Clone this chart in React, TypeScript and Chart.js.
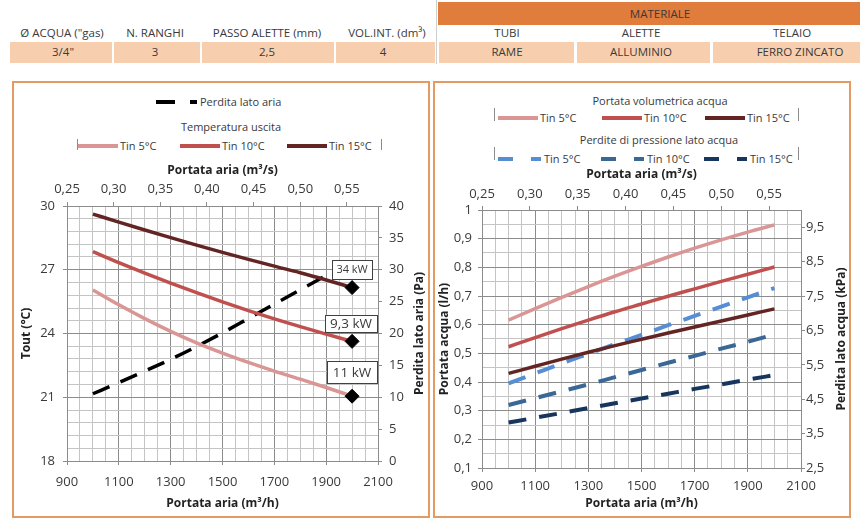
import React, { useEffect, useRef } from 'react';
import { Chart, registerables } from 'chart.js';

Chart.register(...registerables);

// ---------------- data ----------------
const airFlowM3h = [1000, 1100, 1200, 1300, 1400, 1500, 1600, 1700, 1800, 1900, 2000];
const seriesNames = ['Tin 5°C', 'Tin 10°C', 'Tin 15°C'];

// left chart: outlet temperature (°C) and air side pressure drop (Pa)
const toutTin5 = [26.05, 25.35, 24.7, 24.1, 23.56, 23.08, 22.64, 22.23, 21.85, 21.46, 21.05];
const toutTin10 = [27.85, 27.33, 26.84, 26.37, 25.92, 25.49, 25.08, 24.69, 24.32, 23.97, 23.63];
const toutTin15 = [29.62, 29.24, 28.87, 28.51, 28.16, 27.82, 27.49, 27.17, 26.86, 26.52, 26.16];
const airSideLossPa = [10.55, 12.3, 14.1, 15.95, 17.95, 20.1, 22.35, 24.6, 26.85, 29.1, 31.35];
const capacityLabels = ['11 kW', '9,3 kW', '34 kW'];

// right chart: water flow (l/h) and water side pressure drop (kPa)
const waterFlowTin5 = [0.616, 0.656, 0.695, 0.733, 0.769, 0.803, 0.836, 0.867, 0.896, 0.923, 0.948];
const waterFlowTin10 = [0.523, 0.555, 0.586, 0.616, 0.645, 0.672, 0.699, 0.725, 0.751, 0.776, 0.801];
const waterFlowTin15 = [0.43, 0.455, 0.48, 0.504, 0.527, 0.549, 0.571, 0.592, 0.613, 0.634, 0.655];
const waterLossTin5 = [4.96, 5.25, 5.54, 5.82, 6.1, 6.37, 6.65, 6.92, 7.19, 7.46, 7.73];
const waterLossTin10 = [4.33, 4.53, 4.73, 4.93, 5.14, 5.35, 5.56, 5.76, 5.97, 6.17, 6.38];
const waterLossTin15 = [3.82, 3.96, 4.1, 4.24, 4.38, 4.52, 4.66, 4.8, 4.93, 5.07, 5.2];

// axes
const airFlowTicksM3h = [900, 1100, 1300, 1500, 1700, 1900, 2100];
const airFlowTicksM3s = [0.25, 0.3, 0.35, 0.4, 0.45, 0.5, 0.55];
const m3hPerM3s = 3600;
const toutTicks = [18, 21, 24, 27, 30];
const airLossTicks = [0, 5, 10, 15, 20, 25, 30, 35, 40];
const waterFlowTicks = [0.1, 0.2, 0.3, 0.4, 0.5, 0.6, 0.7, 0.8, 0.9, 1];
const waterLossTicks = [2.5, 3.5, 4.5, 5.5, 6.5, 7.5, 8.5, 9.5];
const waterLossMax = 10;

// header table
const headerLabels = ['Ø ACQUA ("gas)', 'N. RANGHI', 'PASSO ALETTE (mm)', 'VOL.INT. (dm³)', 'TUBI', 'ALETTE', 'TELAIO'];
const headerValues = ['3/4"', '3', '2,5', '4', 'RAME', 'ALLUMINIO', 'FERRO ZINCATO'];
const headerGroup = 'MATERIALE';

// ---------------- styles ----------------
const FONT = "'Open Sans', sans-serif";
const TEXT = '#3a3a3a';
const TITLE = '#222';
const GRID_MINOR = '#c4c4c4';
const GRID_MAJOR = '#8c8c8c';
const PINK = '#d99694';
const RED = '#c0504d';
const MAROON = '#632523';
const BLUE1 = '#558ed5';
const BLUE2 = '#3b6796';
const NAVY = '#17365d';
const ORANGE_BORDER = '#e59a62';
const PEACH = '#f8cfae';
const ORANGE_BAND = '#e07c3c';

Chart.defaults.font.family = FONT;

const subdivide = (majors: number[], n: number): number[] => {
  const out: number[] = [];
  for (let i = 0; i < majors.length - 1; i++) {
    for (let k = 0; k < n; k++) out.push(majors[i] + ((majors[i + 1] - majors[i]) * k) / n);
  }
  out.push(majors[majors.length - 1]);
  return out;
};
const isMajor = (v: number, majors: number[]) => majors.some((m) => Math.abs(m - v) < 1e-9);
const comma = (v: number, d: number) => v.toFixed(d).replace('.', ',');
const TRANSPARENT = 'rgba(0,0,0,0)';

const rightTitlePlugin = {
  id: 'rightTitle',
  afterDraw(chart: any, _a: any, opts: any) {
    const s = chart.scales[opts.scaleId];
    const ctx = chart.ctx;
    ctx.save();
    ctx.translate(s.right - opts.offset, (chart.chartArea.top + chart.chartArea.bottom) / 2);
    ctx.rotate(-Math.PI / 2);
    ctx.font = `bold 12px ${FONT}`;
    ctx.fillStyle = TITLE;
    ctx.textAlign = 'center';
    ctx.textBaseline = 'middle';
    ctx.fillText(opts.text, 0, 0);
    ctx.restore();
  },
};

const capacityBoxPlugin = {
  id: 'capacityBoxes',
  afterDatasetsDraw(chart: any, _a: any, opts: any) {
    if (!opts || !opts.boxes) return;
    const ctx = chart.ctx;
    for (const b of opts.boxes) {
      const meta = chart.getDatasetMeta(b.datasetIndex);
      const pt = meta.data[meta.data.length - 1];
      const cx = pt.x + b.dx;
      const cy = pt.y + b.dy;
      ctx.save();
      ctx.fillStyle = '#fff';
      ctx.fillRect(cx - b.w / 2, cy - b.h / 2, b.w, b.h);
      ctx.strokeStyle = '#404040';
      ctx.lineWidth = 1;
      ctx.strokeRect(Math.round(cx - b.w / 2) + 0.5, Math.round(cy - b.h / 2) + 0.5, b.w, b.h);
      ctx.font = `${b.size}px ${FONT}`;
      ctx.fillStyle = TEXT;
      ctx.textAlign = 'center';
      ctx.textBaseline = 'middle';
      ctx.fillText(b.text, cx, cy + 0.5);
      ctx.restore();
    }
  },
};

const tickFont = { size: 13 };
const titleFont = { size: 12, weight: 'bold' as const };

function bottomAxis(height: number, pad: number, titlePad: number) {
  return {
    type: 'linear',
    position: 'bottom',
    min: airFlowTicksM3h[0],
    max: airFlowTicksM3h[airFlowTicksM3h.length - 1],
    afterBuildTicks: (s: any) => {
      s.ticks = subdivide(airFlowTicksM3h, 4).map((value) => ({ value }));
    },
    afterFit: (s: any) => {
      s.height = height;
    },
    ticks: {
      autoSkip: false,
      maxRotation: 0,
      padding: pad,
      color: TEXT,
      font: tickFont,
      callback: (v: number) => (isMajor(v, airFlowTicksM3h) ? String(v) : ''),
    },
    grid: {
      color: (c: any) => (c.tick && !isMajor(c.tick.value, airFlowTicksM3h) ? GRID_MINOR : GRID_MAJOR),
      tickColor: (c: any) => (c.tick && !isMajor(c.tick.value, airFlowTicksM3h) ? TRANSPARENT : GRID_MAJOR),
      tickLength: 4,
      lineWidth: 1,
    },
    border: { color: GRID_MAJOR },
    title: { display: true, text: 'Portata aria (m³/h)', color: TITLE, font: titleFont, padding: { top: 0, bottom: titlePad } },
  };
}

function topAxis(height: number, pad: number, titlePad: number) {
  return {
    type: 'linear',
    position: 'top',
    min: airFlowTicksM3h[0] / m3hPerM3s,
    max: airFlowTicksM3h[airFlowTicksM3h.length - 1] / m3hPerM3s,
    afterBuildTicks: (s: any) => {
      s.ticks = airFlowTicksM3s.map((value) => ({ value }));
    },
    afterFit: (s: any) => {
      s.height = height;
    },
    ticks: { autoSkip: false, maxRotation: 0, padding: pad, color: TEXT, font: tickFont, callback: (v: number) => comma(v, 2) },
    grid: { drawOnChartArea: false, tickLength: 4, color: GRID_MAJOR, tickColor: GRID_MAJOR },
    border: { color: GRID_MAJOR },
    title: { display: true, text: 'Portata aria (m³/s)', color: TITLE, font: titleFont, padding: { top: titlePad, bottom: 0 } },
  };
}

function leftConfig(): any {
  const pts = (ys: number[]) => airFlowM3h.map((x, i) => ({ x, y: ys[i] }));
  const last = airFlowM3h.length - 1;
  const curve = (label: string, ys: number[], color: string) => ({
    label,
    data: pts(ys),
    xAxisID: 'x',
    yAxisID: 'y',
    borderColor: color,
    backgroundColor: color,
    borderWidth: 3.5,
    cubicInterpolationMode: 'monotone',
    pointStyle: 'rectRot',
    pointRadius: (c: any) => (c.dataIndex === last ? 7 : 0),
    pointBackgroundColor: '#000',
    pointBorderColor: '#000',
    pointBorderWidth: 1,
    fill: false,
  });
  return {
    type: 'line',
    data: {
      datasets: [
        curve(seriesNames[0], toutTin5, PINK),
        curve(seriesNames[1], toutTin10, RED),
        curve(seriesNames[2], toutTin15, MAROON),
        {
          label: 'Perdita lato aria',
          data: pts(airSideLossPa),
          xAxisID: 'x',
          yAxisID: 'y1',
          borderColor: '#000',
          borderWidth: 3.5,
          borderDash: [18, 12],
          pointRadius: 0,
          cubicInterpolationMode: 'monotone',
          fill: false,
        },
      ],
    },
    options: {
      responsive: false,
      animation: false,
      events: [],
      layout: { padding: 0 },
      plugins: {
        legend: { display: false },
        tooltip: { enabled: false },
        rightTitle: { scaleId: 'y1', offset: 9, text: 'Perdita lato aria (Pa)' },
        capacityBoxes: {
          boxes: [
            { datasetIndex: 0, text: capacityLabels[0], dx: 0, dy: -24, w: 50, h: 22, size: 13.5 },
            { datasetIndex: 1, text: capacityLabels[1], dx: -1, dy: -18, w: 52, h: 17, size: 13.5 },
            { datasetIndex: 2, text: capacityLabels[2], dx: 0, dy: -18, w: 40, h: 19, size: 11 },
          ],
        },
      },
      scales: {
        x: bottomAxis(54, 9, 4),
        x2: topAxis(56, 5, 13),
        y: {
          type: 'linear',
          position: 'left',
          min: toutTicks[0],
          max: toutTicks[toutTicks.length - 1],
          afterBuildTicks: (s: any) => {
            s.ticks = subdivide(toutTicks, 5).map((value) => ({ value }));
          },
          afterFit: (s: any) => {
            s.width = 53;
          },
          ticks: {
            autoSkip: false,
            padding: 8,
            color: TEXT,
            font: tickFont,
            callback: (v: number) => (isMajor(v, toutTicks) ? String(Math.round(v)) : ''),
          },
          grid: {
            color: (c: any) => (c.tick && !isMajor(c.tick.value, toutTicks) ? GRID_MINOR : GRID_MAJOR),
            tickColor: (c: any) => (c.tick && !isMajor(c.tick.value, toutTicks) ? TRANSPARENT : GRID_MAJOR),
            tickLength: 4,
          },
          border: { color: GRID_MAJOR },
          title: { display: true, text: 'Tout (°C)', color: TITLE, font: titleFont, padding: { top: 5, bottom: 0 } },
        },
        y1: {
          type: 'linear',
          position: 'right',
          min: airLossTicks[0],
          max: airLossTicks[airLossTicks.length - 1],
          afterBuildTicks: (s: any) => {
            s.ticks = airLossTicks.map((value) => ({ value }));
          },
          afterFit: (s: any) => {
            s.width = 51;
          },
          ticks: { autoSkip: false, padding: 7, color: TEXT, font: tickFont, callback: (v: number) => String(v) },
          grid: { drawOnChartArea: false, tickLength: 4, color: GRID_MAJOR, tickColor: GRID_MAJOR },
          border: { color: GRID_MAJOR },
        },
      },
    },
    plugins: [rightTitlePlugin, capacityBoxPlugin],
  };
}

function rightConfig(): any {
  const pts = (ys: number[]) => airFlowM3h.map((x, i) => ({ x, y: ys[i] }));
  const line = (label: string, ys: number[], color: string, axis: string, dashed: boolean) => ({
    label,
    data: pts(ys),
    xAxisID: 'x',
    yAxisID: axis,
    borderColor: color,
    backgroundColor: color,
    borderWidth: dashed ? 4 : 3.5,
    borderDash: dashed ? [18, 13] : [],
    cubicInterpolationMode: 'monotone',
    pointRadius: 0,
    fill: false,
  });
  return {
    type: 'line',
    data: {
      datasets: [
        line(seriesNames[0], waterFlowTin5, PINK, 'y', false),
        line(seriesNames[1], waterFlowTin10, RED, 'y', false),
        line(seriesNames[2], waterFlowTin15, MAROON, 'y', false),
        line(seriesNames[0], waterLossTin5, BLUE1, 'y1', true),
        line(seriesNames[1], waterLossTin10, BLUE2, 'y1', true),
        line(seriesNames[2], waterLossTin15, NAVY, 'y1', true),
      ],
    },
    options: {
      responsive: false,
      animation: false,
      events: [],
      layout: { padding: 0 },
      plugins: {
        legend: { display: false },
        tooltip: { enabled: false },
        rightTitle: { scaleId: 'y1', offset: 6, text: 'Perdita lato acqua (kPa)' },
      },
      scales: {
        x: bottomAxis(48, 6, 5),
        x2: topAxis(52, 4, 9),
        y: {
          type: 'linear',
          position: 'left',
          min: waterFlowTicks[0],
          max: waterFlowTicks[waterFlowTicks.length - 1],
          afterBuildTicks: (s: any) => {
            s.ticks = subdivide(waterFlowTicks, 2).map((value) => ({ value }));
          },
          afterFit: (s: any) => {
            s.width = 46;
          },
          ticks: {
            autoSkip: false,
            padding: 6,
            color: TEXT,
            font: tickFont,
            callback: (v: number) => (isMajor(v, waterFlowTicks) ? (Math.abs(v - 1) < 1e-9 ? '1' : comma(v, 1)) : ''),
          },
          grid: {
            color: (c: any) => (c.tick && !isMajor(c.tick.value, waterFlowTicks) ? GRID_MINOR : GRID_MAJOR),
            tickColor: (c: any) => (c.tick && !isMajor(c.tick.value, waterFlowTicks) ? TRANSPARENT : GRID_MAJOR),
            tickLength: 4,
          },
          border: { color: GRID_MAJOR },
          title: { display: true, text: 'Portata acqua (l/h)', color: TITLE, font: titleFont, padding: { top: 1, bottom: 0 } },
        },
        y1: {
          type: 'linear',
          position: 'right',
          min: waterLossTicks[0],
          max: waterLossMax,
          afterBuildTicks: (s: any) => {
            s.ticks = waterLossTicks.map((value) => ({ value }));
          },
          afterFit: (s: any) => {
            s.width = 47;
          },
          ticks: { autoSkip: false, padding: 1, color: TEXT, font: tickFont, callback: (v: number) => comma(v, 1) },
          grid: { drawOnChartArea: false, tickLength: 4, color: GRID_MAJOR, tickColor: GRID_MAJOR },
          border: { color: GRID_MAJOR },
        },
      },
    },
    plugins: [rightTitlePlugin],
  };
}

function ChartBox({ left, top, width, height, make }: any) {
  const ref = useRef<HTMLCanvasElement>(null);
  useEffect(() => {
    const chart = new Chart(ref.current as HTMLCanvasElement, make());
    return () => chart.destroy();
  }, []);
  return (
    <div style={{ position: 'absolute', left, top, width, height }}>
      <canvas ref={ref} width={width} height={height} style={{ display: 'block', width, height }} />
    </div>
  );
}

function Txt({ x, y, children, size = 11, align = 'center', bold = false, color = TEXT, w = 300 }: any) {
  const style: any = {
    position: 'absolute',
    top: y - size * 0.7,
    height: size * 1.4,
    lineHeight: `${size * 1.4}px`,
    fontSize: size,
    whiteSpace: 'nowrap',
    color,
    fontWeight: bold ? 700 : 400,
    fontFamily: FONT,
  };
  if (align === 'center') {
    style.left = x - w / 2;
    style.width = w;
    style.textAlign = 'center';
  } else {
    style.left = x;
  }
  return <div style={style}>{children}</div>;
}

function Box({ x, y, w, h, bg, style }: any) {
  return <div style={{ position: 'absolute', left: x, top: y, width: w, height: h, background: bg, ...style }} />;
}

function SolidItem({ x, y, color, label }: any) {
  return (
    <>
      <Box x={x} y={y - 2} w={40} h={4} bg={color} />
      <Txt x={x + 42} y={y} align="left">{label}</Txt>
    </>
  );
}

function DashItem({ x, y, color, label, long = 15, short = 10, gap = 18 }: any) {
  return (
    <>
      <Box x={x} y={y - 2} w={long} h={4} bg={color} />
      <Box x={x + long + gap} y={y - 2} w={short} h={4} bg={color} />
      <Txt x={x + long + gap + short + 3} y={y} align="left">{label}</Txt>
    </>
  );
}

const cellSpans = [
  [10, 112],
  [114, 200],
  [202, 334],
  [336, 435],
  [439, 574],
  [577, 710],
  [713, 860],
];
const labelCenters = [62, 155, 267, 387, 507, 641, 792];
const valueCenters = [63, 155, 267, 383, 507, 641, 800];

export default function App() {
  return (
    <div style={{ position: 'absolute', left: 0, top: 0, width: 860, height: 520, background: '#fff', overflow: 'hidden', fontFamily: FONT }}>
      {/* header table */}
      <Box x={438} y={2} w={422} h={23} bg={ORANGE_BAND} />
      <Txt x={660} y={14} size={11.5}>{headerGroup}</Txt>
      <Box x={436} y={0} w={1} h={64} bg="#cfcfcf" />
      {cellSpans.map(([a, b], i) => (
        <Box key={'c' + i} x={a} y={42} w={b - a} h={21} bg={PEACH} />
      ))}
      {headerLabels.map((t, i) => (
        <Txt key={'l' + i} x={labelCenters[i]} y={33} size={11.5}>{t}</Txt>
      ))}
      {headerValues.map((t, i) => (
        <Txt key={'v' + i} x={valueCenters[i]} y={52} size={11.5}>{t}</Txt>
      ))}

      {/* panels */}
      <div style={{ position: 'absolute', left: 12, top: 81, width: 418, height: 437, border: `2px solid ${ORANGE_BORDER}`, boxSizing: 'border-box' }} />
      <div style={{ position: 'absolute', left: 433, top: 81, width: 418, height: 437, border: `2px solid ${ORANGE_BORDER}`, boxSizing: 'border-box' }} />

      {/* left legends */}
      <Box x={156} y={100} w={19} h={4} bg="#000" />
      <Box x={190} y={100} w={7} h={4} bg="#000" />
      <Txt x={200} y={102} align="left">Perdita lato aria</Txt>
      <Txt x={231} y={127}>Temperatura uscita</Txt>
      <Box x={77} y={139} w={1} h={11} bg="#8c8c8c" />
      <Box x={381} y={139} w={1} h={11} bg="#8c8c8c" />
      <SolidItem x={78} y={146} color={PINK} label={seriesNames[0]} />
      <SolidItem x={180} y={146} color={RED} label={seriesNames[1]} />
      <SolidItem x={287} y={146} color={MAROON} label={seriesNames[2]} />

      {/* right legends */}
      <Txt x={660} y={101}>Portata volumetrica acqua</Txt>
      <Box x={494} y={108} w={1} h={13} bg="#8c8c8c" />
      <Box x={798} y={108} w={1} h={13} bg="#8c8c8c" />
      <SolidItem x={498} y={118} color={PINK} label={seriesNames[0]} />
      <SolidItem x={602} y={118} color={RED} label={seriesNames[1]} />
      <SolidItem x={705} y={118} color={MAROON} label={seriesNames[2]} />
      <Txt x={659} y={140}>Perdite di pressione lato acqua</Txt>
      <Box x={494} y={147} w={1} h={13} bg="#8c8c8c" />
      <Box x={798} y={147} w={1} h={13} bg="#8c8c8c" />
      <DashItem x={498} y={159} color={BLUE1} label={seriesNames[0]} />
      <DashItem x={601} y={159} color={BLUE2} label={seriesNames[1]} />
      <DashItem x={704} y={159} color={NAVY} label={seriesNames[2]} />

      <ChartBox left={14} top={150} width={415} height={365} make={leftConfig} />
      <ChartBox left={436} top={158} width={412} height={358} make={rightConfig} />
    </div>
  );
}
